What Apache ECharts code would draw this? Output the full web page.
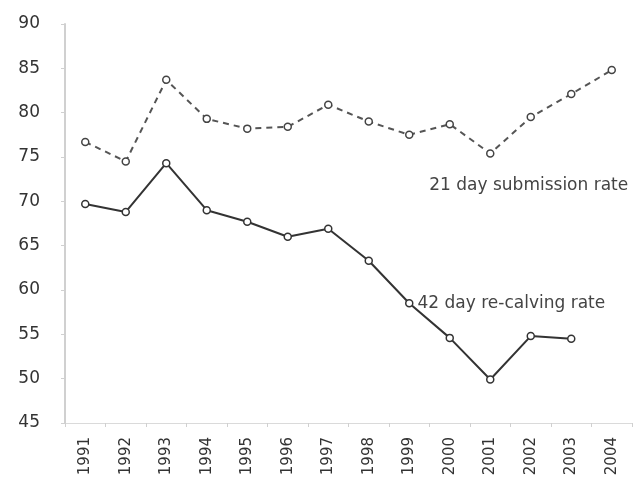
<!DOCTYPE html>
<html><head><meta charset="utf-8">
<script src="https://cdn.jsdelivr.net/npm/echarts@6/dist/echarts.min.js"></script>
<style>html,body{margin:0;padding:0;background:#fff}#c{width:637px;height:479px}</style>
</head><body><div id="c"></div>
<script>
const years = ['1991','1992','1993','1994','1995','1996','1997','1998','1999','2000','2001','2002','2003','2004'];
const submissionRate = [76.7,74.5,83.7,79.3,78.2,78.4,80.9,79.0,77.5,78.7,75.4,79.5,82.1,84.8];
const recalvingRate = [69.7,68.8,74.3,69.0,67.7,66.0,66.9,63.3,58.5,54.6,49.9,54.8,54.5,null];
const submissionLabel = '21 day submission rate';
const recalvingLabel = '42 day re-calving rate';
const submissionLabelIndex = 11;
const recalvingLabelIndex = 8;

const font = 'DejaVu Sans';
const chart = echarts.init(document.getElementById('c'));
chart.setOption({
  animation:false,
  backgroundColor:'#fff',
  grid:{left:65,right:5,top:24,bottom:56},
  xAxis:{type:'category',data:years,boundaryGap:true,
    axisLine:{lineStyle:{color:'#dadada',width:1}},
    axisTick:{show:true,length:4,lineStyle:{color:'#d0d0d0'}},
    axisLabel:{rotate:90,color:'#333',fontSize:15,fontFamily:font,margin:14}},
  yAxis:{type:'value',min:45,max:90,interval:5,
    axisLine:{show:true,lineStyle:{color:'#d0d0d0',width:2}},
    axisTick:{show:true,length:4,lineStyle:{color:'#d0d0d0'}},
    splitLine:{show:false},
    axisLabel:{color:'#333',fontSize:17,fontFamily:font,margin:25}},
  series:[
    {type:'line',name:submissionLabel,
     data:submissionRate.map((v,i)=>i===submissionLabelIndex?{value:v,label:{show:true,formatter:submissionLabel,position:'bottom',distance:56,offset:[-2,0],color:'#444',fontSize:17,fontFamily:font}}:v),
     symbol:'circle',symbolSize:7,
     itemStyle:{color:'#fff',borderColor:'#444',borderWidth:1.5},
     lineStyle:{color:'#555',width:2,type:[6,5]}},
    {type:'line',name:recalvingLabel,
     data:recalvingRate.map((v,i)=>i===recalvingLabelIndex?{value:v,label:{show:true,formatter:recalvingLabel,position:'right',distance:4,offset:[0,0],color:'#444',fontSize:17,fontFamily:font}}:v),
     symbol:'circle',symbolSize:7,connectNulls:false,
     itemStyle:{color:'#fff',borderColor:'#333',borderWidth:1.5},
     lineStyle:{color:'#333',width:2}}
  ]
});
</script></body></html>
